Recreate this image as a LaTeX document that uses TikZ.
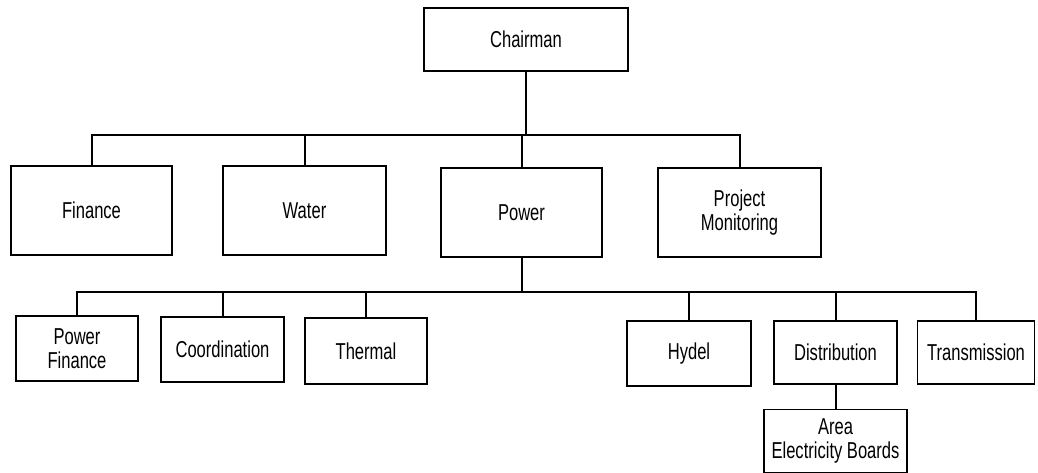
\documentclass[tikz,border=0pt]{standalone}
\usepackage{fontspec}
\setmainfont{Liberation Sans}[FakeStretch=0.72]
\usepackage{tikz}

\begin{document}
\begin{tikzpicture}[x=1pt,y=-1pt,
    unit/.style={draw,line width=1.3pt,align=center,inner sep=0pt,
      font=\fontsize{23}{24}\selectfont},
    link/.style={line width=2pt}]
        \useasboundingbox (0,0) rectangle (1038,473);
        % top
        \node[unit,minimum width=204pt,minimum height=63pt] (chair) at (526,39.5) {Chairman};
        % departments
        \node[unit,minimum width=161pt,minimum height=89pt] (fin) at (91.5,210.5) {Finance};
        \node[unit,minimum width=163pt,minimum height=89pt] (water) at (304.5,210.5) {Water};
        \node[unit,minimum width=161pt,minimum height=89pt] (power) at (521.5,212.5) {Power};
        \node[unit,minimum width=163pt,minimum height=89pt] (proj) at (739.5,212.5) {Project\\Monitoring};
        % power wings
        \node[unit,minimum width=122pt,minimum height=65pt] (pfin) at (77,348.5) {Power\\Finance};
        \node[unit,minimum width=123pt,minimum height=65pt] (coord) at (222.5,349.5) {Coordination};
        \node[unit,minimum width=122pt,minimum height=66pt] (therm) at (366,351) {Thermal};
        \node[unit,minimum width=124pt,minimum height=65pt] (hydel) at (689,353.5) {Hydel};
        \node[unit,minimum width=123pt,minimum height=63pt] (dist) at (835.5,352.5) {Distribution};
        \node[unit,minimum width=117pt,minimum height=63pt] (trans) at (976,352.5) {Transmission};
        \node[unit,minimum width=143pt,minimum height=63pt] (area) at (835.5,441) {Area\\Electricity Boards};
        % buses
        \coordinate (bus1) at (526,135);
        \coordinate (bus2) at (521.5,292);
        \draw[link] (chair.south) -- (bus1);
        \draw[link] (fin.north) |- (bus1) -| (proj.north);
        \draw[link] foreach \n in {water,power}{(\n.north) -- (\n.north |- bus1)};
        \draw[link] (power.south) -- (bus2);
        \draw[link] (pfin.north) |- (bus2) -| (trans.north);
        \draw[link] foreach \n in {coord,therm,hydel,dist}{(\n.north) -- (\n.north |- bus2)};
        \draw[link] (dist.south) -- (area.north);
      \end{tikzpicture}
\end{document}
